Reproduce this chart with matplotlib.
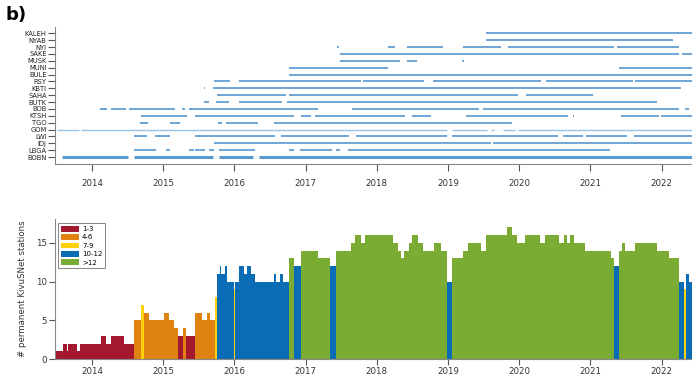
import numpy as np
import matplotlib
matplotlib.use("Agg")
import matplotlib.pyplot as plt
from matplotlib.patches import Patch

# station names, top to bottom
stations = ["KALEH", "NYAB", "NYI", "SAKE", "MUSK", "MUNI", "BULE", "RSY", "KBTI", "SAHA",
            "BUTK", "BOB", "KTSH", "TGO", "GOM", "LWI", "IDJ", "LBGA", "BOBN"]

# data availability periods (decimal years) per station
periods = {
    "KALEH": [(2019.53, 2022.52)],
    "NYAB": [(2019.53, 2022.16)],
    "NYI": [(2017.44, 2017.47), (2018.16, 2018.26), (2018.43, 2018.93), (2019.21, 2019.75),
            (2019.84, 2021.33), (2021.37, 2022.25)],
    "SAKE": [(2017.48, 2022.25), (2022.29, 2022.52)],
    "MUSK": [(2017.48, 2018.32), (2018.43, 2018.57), (2019.20, 2019.22)],
    "MUNI": [(2016.77, 2018.16), (2021.40, 2022.52)],
    "BULE": [(2016.77, 2022.52)],
    "RSY": [(2015.72, 2015.94), (2016.06, 2017.78), (2017.81, 2018.67), (2018.79, 2020.31),
            (2020.38, 2021.60), (2021.63, 2022.52)],
    "KBTI": [(2015.57, 2015.59), (2015.70, 2022.28)],
    "SAHA": [(2015.75, 2016.72), (2016.77, 2019.98), (2020.09, 2021.04)],
    "BUTK": [(2015.57, 2015.64), (2015.74, 2015.92), (2016.06, 2016.67), (2016.74, 2021.93)],
    "BOB": [(2014.11, 2014.21), (2014.26, 2014.48), (2014.52, 2015.17), (2015.26, 2015.31),
            (2015.36, 2017.17), (2017.65, 2019.44), (2019.49, 2022.25), (2022.33, 2022.39)],
    "KTSH": [(2014.69, 2015.34), (2015.45, 2016.84), (2016.93, 2017.07), (2017.13, 2018.40),
             (2018.49, 2018.76), (2019.26, 2020.69), (2020.75, 2020.77), (2021.43, 2021.96),
             (2021.99, 2022.52)],
    "TGO": [(2014.67, 2014.79), (2015.09, 2015.24), (2015.77, 2015.82), (2015.88, 2016.33),
            (2016.55, 2019.90)],
    "GOM": [(2013.51, 2013.81), (2013.85, 2018.99), (2019.06, 2019.55), (2019.60, 2019.65),
            (2019.77, 2019.94), (2019.98, 2022.52)],
    "LWI": [(2014.59, 2014.77), (2014.89, 2015.09), (2015.45, 2016.57), (2016.65, 2017.61),
            (2017.71, 2018.99), (2019.06, 2020.55), (2020.62, 2020.89), (2020.94, 2021.51),
            (2021.61, 2022.52)],
    "IDJ": [(2015.71, 2019.60), (2019.63, 2022.52)],
    "LBGA": [(2014.59, 2014.90), (2015.04, 2015.10), (2015.36, 2015.43), (2015.45, 2015.58),
             (2015.65, 2015.72), (2015.78, 2016.29), (2016.77, 2016.83), (2016.92, 2017.37),
             (2017.43, 2017.48), (2017.60, 2021.27)],
    "BOBN": [(2013.58, 2014.50), (2014.59, 2015.70), (2015.78, 2016.26), (2016.35, 2022.52)],
}

# number of permanent stations: step start times and counts
count_t = [2013.482, 2013.596, 2013.652, 2013.667, 2013.794, 2013.837, 2014.121, 2014.191,
           2014.262, 2014.447, 2014.589, 2014.688, 2014.730, 2014.801, 2015.014, 2015.085,
           2015.156, 2015.213, 2015.284, 2015.326, 2015.440, 2015.539, 2015.610, 2015.652,
           2015.723, 2015.752, 2015.794, 2015.809, 2015.865, 2015.894, 2015.993, 2016.007,
           2016.064, 2016.135, 2016.177, 2016.234, 2016.291, 2016.560, 2016.589, 2016.645,
           2016.688, 2016.773, 2016.844, 2016.929, 2017.170, 2017.340, 2017.426, 2017.638,
           2017.695, 2017.780, 2017.837, 2018.234, 2018.291, 2018.333, 2018.376, 2018.447,
           2018.489, 2018.574, 2018.645, 2018.801, 2018.901, 2018.986, 2019.057, 2019.213,
           2019.284, 2019.468, 2019.539, 2019.823, 2019.894, 2019.965, 2020.078, 2020.291,
           2020.362, 2020.560, 2020.631, 2020.674, 2020.716, 2020.773, 2020.929, 2021.284,
           2021.326, 2021.404, 2021.447, 2021.489, 2021.631, 2021.929, 2022.099, 2022.241,
           2022.312, 2022.340, 2022.383]
count_n = [1, 2, 1, 2, 1, 2, 3, 2,
           3, 2, 5, 7, 6, 5, 6, 5,
           4, 3, 4, 3, 6, 5, 6, 5,
           8, 11, 12, 11, 12, 10, 9, 10,
           12, 11, 12, 11, 10, 11, 10, 11,
           10, 13, 12, 14, 13, 12, 14, 15,
           16, 15, 16, 15, 14, 13, 14, 15,
           16, 15, 14, 15, 14, 10, 13, 14,
           15, 14, 16, 17, 16, 15, 16, 15,
           16, 15, 16, 15, 16, 15, 14, 13,
           12, 14, 15, 14, 15, 14, 13, 10,
           9, 11, 10]
count_end = 2022.52

class_labels = ["1-3", "4-6", "7-9", "10-12", ">12"]
class_colors = ["#a3182f", "#e0820f", "#fdd20a", "#0b6cb6", "#7aab32"]

years = list(range(2014, 2023))


def count_color(n):
    if n <= 3:
        return class_colors[0]
    if n <= 6:
        return class_colors[1]
    if n <= 9:
        return class_colors[2]
    if n <= 12:
        return class_colors[3]
    return class_colors[4]


fig = plt.figure(figsize=(6.92, 3.76), dpi=100)
ax1 = fig.add_axes([0.0795, 0.564, 0.93, 0.364])
ax2 = fig.add_axes([0.0795, 0.045, 0.93, 0.373])

xlim = (2013.48, 2022.52)
grey = "#555555"

# top panel: availability
nst = len(stations)
for i, name in enumerate(stations):
    yy = nst - 1 - i
    lw = 1.4
    col = "#6fa6d6"
    if name == "BOBN":
        lw = 2.2
        col = "#5b9bd0"
    if name == "GOM":
        lw = 1.0
        col = "#9cc3e6"
    for s, e in periods[name]:
        ax1.hlines(yy, s, e, color=col, lw=lw)

ax1.set_xlim(*xlim)
ax1.set_ylim(-1, nst - 0.1)
ax1.set_yticks(range(nst))
ax1.set_yticklabels(stations[::-1])
ax1.set_xticks(years)
ax1.set_xticklabels([str(y) for y in years])
ax1.tick_params(axis="y", labelsize=4.9, length=5, pad=1, color=grey, labelcolor="#222222")
ax1.tick_params(axis="x", labelsize=6.2, length=5, pad=6, color=grey, labelcolor="#333333")
for sp in ["top", "right"]:
    ax1.spines[sp].set_visible(False)
for sp in ["left", "bottom"]:
    ax1.spines[sp].set_color("#888888")
    ax1.spines[sp].set_linewidth(0.8)

# bottom panel: number of stations
starts = np.array(count_t)
ends = np.append(starts[1:], count_end)
ax2.bar(starts, count_n, width=ends - starts, align="edge",
        color=[count_color(n) for n in count_n], edgecolor="none", linewidth=0)

ax2.set_xlim(*xlim)
ax2.set_ylim(0, 18.1)
ax2.set_yticks([0, 5, 10, 15])
ax2.set_xticks(years)
ax2.set_xticklabels([str(y) for y in years])
ax2.tick_params(axis="both", labelsize=6.2, length=4, pad=2, color=grey, labelcolor="#333333")
for sp in ["top", "right"]:
    ax2.spines[sp].set_visible(False)
for sp in ["left", "bottom"]:
    ax2.spines[sp].set_color("#888888")
    ax2.spines[sp].set_linewidth(0.8)
ax2.set_ylabel("# permanent KivuSNet stations", fontsize=6.2, color="#333333", labelpad=6)

handles = [Patch(facecolor=c, edgecolor="none", label=l) for c, l in zip(class_colors, class_labels)]
leg = ax2.legend(handles=handles, loc="upper left", bbox_to_anchor=(0.003, 0.98), fontsize=5.0,
                 frameon=True, fancybox=False, handlelength=2.6, handleheight=0.9,
                 handletextpad=0.4, labelspacing=0.3, borderpad=0.4, borderaxespad=0.2)
leg.get_frame().set_edgecolor("#666666")
leg.get_frame().set_linewidth(0.7)

fig.text(0.008, 0.985, "b)", fontsize=13, fontweight="bold", va="top", ha="left")

fig.savefig("out.png", dpi=100)
